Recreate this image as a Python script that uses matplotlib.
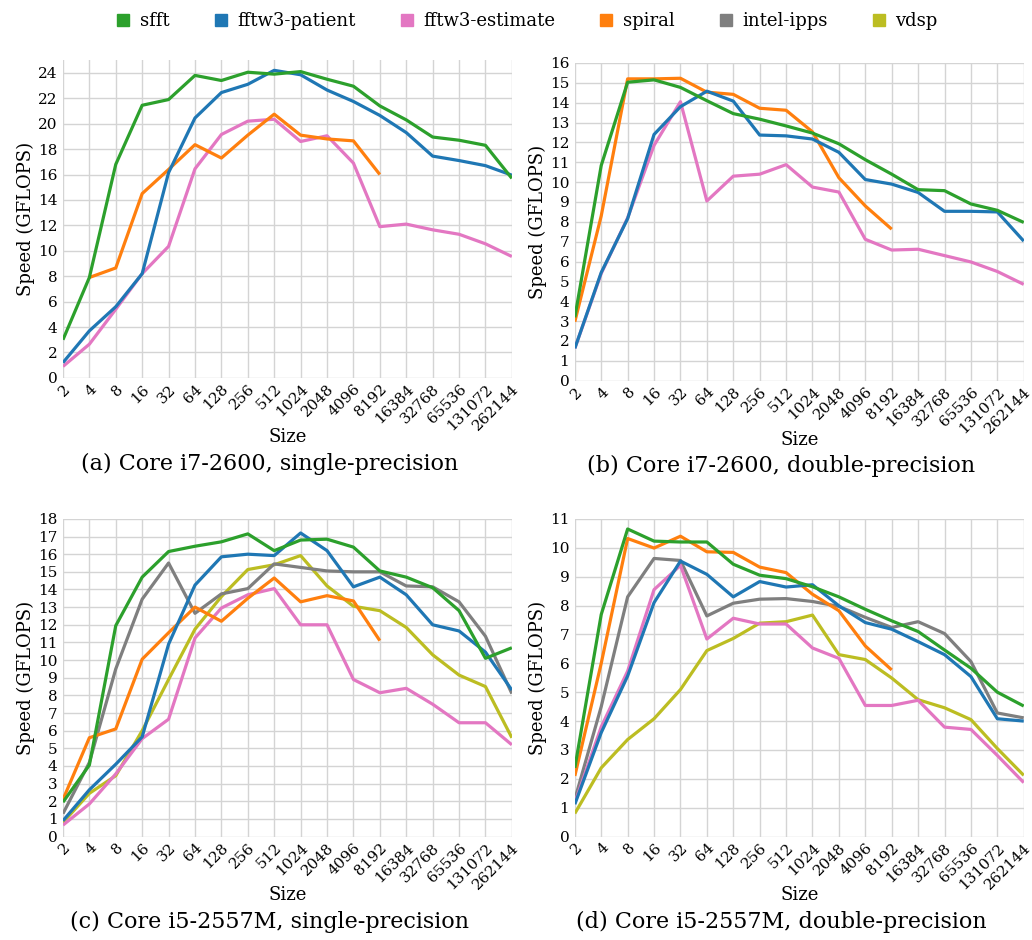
import numpy as np
import matplotlib
matplotlib.use('Agg')
import matplotlib.pyplot as plt
from matplotlib.lines import Line2D

plt.rcParams['font.family'] = ['DejaVu Serif']

sizes = ['2', '4', '8', '16', '32', '64', '128', '256', '512', '1024', '2048',
         '4096', '8192', '16384', '32768', '65536', '131072', '262144']
nan = np.nan

# (a) Core i7-2600, single-precision
a_sfft = [3.0, 7.9, 16.8, 21.45, 21.9, 23.8, 23.4, 24.05, 23.9, 24.1, 23.5, 22.95,
          21.4, 20.3, 18.95, 18.7, 18.3, 15.7]
a_patient = [1.2, 3.7, 5.6, 8.2, 16.15, 20.45, 22.45, 23.1, 24.2, 23.85, 22.65, 21.75,
             20.65, 19.3, 17.45, 17.1, 16.7, 15.95]
a_estimate = [0.9, 2.65, 5.4, 8.2, 10.35, 16.45, 19.15, 20.2, 20.35, 18.6, 19.05, 16.9,
              11.9, 12.1, 11.65, 11.3, 10.55, 9.55]
a_spiral = [nan, 7.9, 8.65, 14.5, 16.4, 18.35, 17.3, 19.1, 20.75, 19.1, 18.8, 18.65,
            16.0, nan, nan, nan, nan, nan]

# (b) Core i7-2600, double-precision
b_sfft = [3.19, 10.84, 15.03, 15.15, 14.77, 14.1, 13.45, 13.17, 12.83, 12.47, 11.93, 11.13,
          10.4, 9.62, 9.57, 8.9, 8.58, 7.97]
b_patient = [1.63, 5.45, 8.16, 12.4, 13.8, 14.58, 14.08, 12.37, 12.33, 12.17, 11.5, 10.13,
             9.9, 9.48, 8.53, 8.53, 8.5, 7.03]
b_estimate = [1.63, 5.4, 8.2, 11.85, 14.05, 9.05, 10.3, 10.4, 10.88, 9.75, 9.5, 7.12,
              6.58, 6.62, 6.3, 5.98, 5.5, 4.85]
b_spiral = [2.97, 8.3, 15.2, 15.2, 15.23, 14.53, 14.42, 13.72, 13.62, 12.53, 10.22, 8.8,
            7.63, nan, nan, nan, nan, nan]

# (c) Core i5-2557M, single-precision
c_sfft = [1.95, 4.05, 11.95, 14.7, 16.15, 16.45, 16.7, 17.15, 16.2, 16.8, 16.85, 16.4,
          15.05, 14.7, 14.1, 12.8, 10.1, 10.7]
c_patient = [0.9, 2.65, 4.1, 5.65, 10.9, 14.25, 15.85, 16.0, 15.92, 17.2, 16.2, 14.15,
             14.7, 13.7, 12.0, 11.65, 10.45, 8.3]
c_estimate = [0.65, 1.85, 3.55, 5.55, 6.65, 11.25, 12.95, 13.7, 14.05, 12.0, 12.0, 8.9,
              8.15, 8.4, 7.5, 6.45, 6.45, 5.2]
c_spiral = [2.1, 5.6, 6.1, 10.05, 11.55, 13.0, 12.2, 13.5, 14.65, 13.3, 13.65, 13.35,
            11.1, nan, nan, nan, nan, nan]
c_ipps = [1.3, 4.2, 9.5, 13.45, 15.5, 12.65, 13.75, 14.05, 15.45, 15.25, 15.05, 15.0,
          15.0, 14.2, 14.15, 13.3, 11.35, 8.1]
c_vdsp = [0.8, 2.45, 3.45, 6.0, 8.9, 11.75, 13.6, 15.13, 15.4, 15.92, 14.2, 13.05,
          12.8, 11.85, 10.3, 9.15, 8.5, 5.6]

# (d) Core i5-2557M, double-precision
d_sfft = [2.38, 7.69, 10.65, 10.23, 10.2, 10.2, 9.43, 9.05, 8.93, 8.65, 8.3, 7.87,
          7.47, 7.1, 6.46, 5.83, 5.0, 4.52]
d_patient = [1.12, 3.6, 5.56, 8.1, 9.54, 9.08, 8.3, 8.83, 8.64, 8.72, 7.99, 7.41,
             7.18, 6.75, 6.3, 5.54, 4.08, 4.0]
d_estimate = [1.17, 3.8, 5.73, 8.55, 9.39, 6.84, 7.56, 7.36, 7.36, 6.53, 6.17, 4.54,
              4.54, 4.72, 3.79, 3.71, 2.81, 1.87]
d_spiral = [2.1, 6.0, 10.32, 9.99, 10.4, 9.86, 9.84, 9.33, 9.14, 8.39, 7.82, 6.6,
            5.77, nan, nan, nan, nan, nan]
d_ipps = [1.29, 4.5, 8.3, 9.63, 9.56, 7.64, 8.08, 8.22, 8.24, 8.14, 7.97, 7.59,
          7.24, 7.44, 7.03, 6.06, 4.28, 4.11]
d_vdsp = [0.8, 2.38, 3.36, 4.08, 5.09, 6.44, 6.86, 7.39, 7.44, 7.67, 6.3, 6.13,
          5.49, 4.74, 4.46, 4.05, 3.05, 2.12]

names = ['sfft', 'fftw3-patient', 'fftw3-estimate', 'spiral', 'intel-ipps', 'vdsp']
colors = {'sfft': '#2ca02c', 'fftw3-patient': '#1f77b4', 'fftw3-estimate': '#e377c2',
          'spiral': '#ff7f0e', 'intel-ipps': '#7f7f7f', 'vdsp': '#bcbd22'}

panels = [
    ('(a) Core i7-2600, single-precision', [0.061, 0.598, 0.435, 0.338], 25, 2,
     {'sfft': a_sfft, 'fftw3-patient': a_patient, 'fftw3-estimate': a_estimate, 'spiral': a_spiral}),
    ('(b) Core i7-2600, double-precision', [0.557, 0.595, 0.435, 0.338], 16, 1,
     {'sfft': b_sfft, 'fftw3-patient': b_patient, 'fftw3-estimate': b_estimate, 'spiral': b_spiral}),
    ('(c) Core i5-2557M, single-precision', [0.061, 0.110, 0.435, 0.338], 18, 1,
     {'sfft': c_sfft, 'fftw3-patient': c_patient, 'fftw3-estimate': c_estimate, 'spiral': c_spiral,
      'intel-ipps': c_ipps, 'vdsp': c_vdsp}),
    ('(d) Core i5-2557M, double-precision', [0.557, 0.110, 0.435, 0.338], 11, 1,
     {'sfft': d_sfft, 'fftw3-patient': d_patient, 'fftw3-estimate': d_estimate, 'spiral': d_spiral,
      'intel-ipps': d_ipps, 'vdsp': d_vdsp}),
]

fig = plt.figure(figsize=(10.32, 9.40), dpi=100)
x = np.arange(len(sizes))

for caption, rect, ymax, ystep, series in panels:
    ax = fig.add_axes(rect)
    for name in ['vdsp', 'intel-ipps', 'fftw3-estimate', 'spiral', 'fftw3-patient', 'sfft']:
        if name in series:
            ax.plot(x, series[name], color=colors[name], lw=2.3, solid_capstyle='butt', zorder=3)
    ax.set_xlim(0, len(sizes) - 1)
    ax.set_ylim(0, ymax)
    ax.set_xticks(x)
    ax.set_xticklabels(sizes, rotation=45, ha='right', rotation_mode='anchor', fontsize=11)
    ax.set_yticks(np.arange(0, ymax + 0.01, ystep) if ymax % ystep == 0 else np.arange(0, ymax, ystep))
    ax.tick_params(axis='y', labelsize=11, length=0, pad=4)
    ax.tick_params(axis='x', length=0, pad=3)
    ax.grid(True, color='#d4d4d4', lw=1.0, zorder=0)
    for edge in ['left', 'right', 'top', 'bottom']:
        ax.spines[edge].set_visible(False)
    ax.set_xlabel('Size', fontsize=13, labelpad=-4)
    ax.set_ylabel('Speed (GFLOPS)', fontsize=13, labelpad=2)
    ax.text(0.46, -0.235, caption, transform=ax.transAxes, ha='center', va='top', fontsize=16)

handles = [Line2D([], [], marker='s', ls='none', color=colors[n], markersize=8) for n in names]
fig.legend(handles, names, loc='upper left', bbox_to_anchor=(0.095, 1.004), ncol=6,
           frameon=False, fontsize=13, handletextpad=0.4, columnspacing=2.35, handlelength=1.0)

plt.savefig('out.png', dpi=100)
